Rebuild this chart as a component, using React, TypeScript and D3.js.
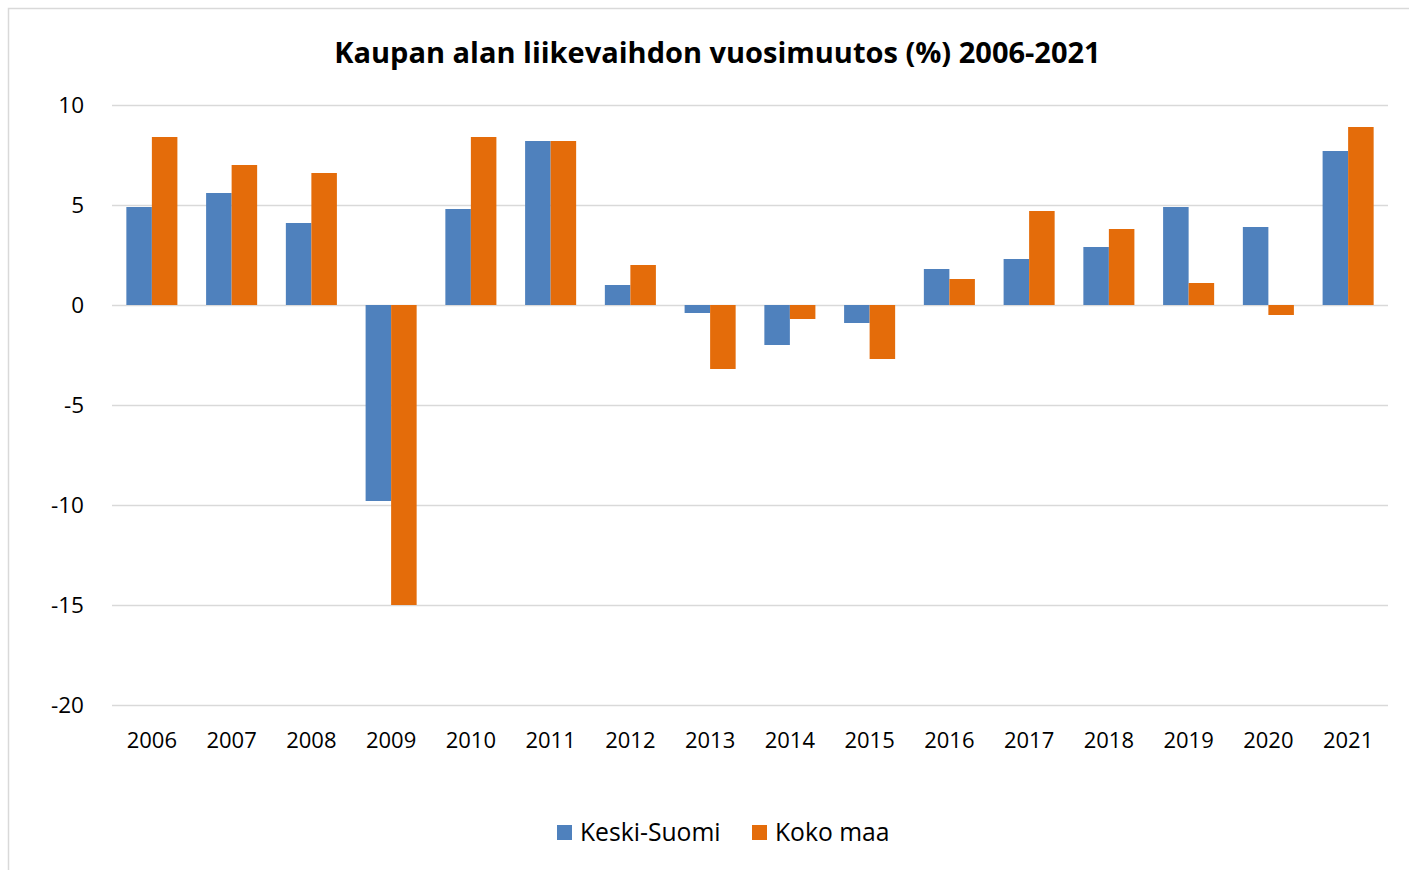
import React from "react";
import * as d3 from "d3";

const years = ["2006","2007","2008","2009","2010","2011","2012","2013","2014","2015","2016","2017","2018","2019","2020","2021"];
const keskiSuomi = [4.9, 5.6, 4.1, -9.8, 4.8, 8.2, 1.0, -0.4, -2.0, -0.9, 1.8, 2.3, 2.9, 4.9, 3.9, 7.7];
const kokoMaa = [8.4, 7.0, 6.6, -15.0, 8.4, 8.2, 2.0, -3.2, -0.7, -2.7, 1.3, 4.7, 3.8, 1.1, -0.5, 8.9];
const seriesNames = ["Keski-Suomi", "Koko maa"];
const seriesColors = ["#4F81BD", "#E46C0A"];
const yTicks = [10, 5, 0, -5, -10, -15, -20];
const title = "Kaupan alan liikevaihdon vuosimuutos (%) 2006-2021";

const W = 1409, H = 870;
const FONT = "'Open Sans', sans-serif";

export default function App() {
  const x0 = d3.scaleBand<string>().domain(years).range([112, 1388]).padding(0);
  const bw = x0.bandwidth();
  const x1 = d3.scaleBand<string>().domain(seriesNames).range([bw * 0.18, bw * 0.82]).padding(0);
  const y = d3.scaleLinear().domain([-20, 10]).range([705, 105]);
  const values = [keskiSuomi, kokoMaa];

  return (
    <svg width={W} height={H} style={{ position: "absolute", left: 0, top: 0, display: "block" }} fontFamily={FONT}>
      <rect x={0} y={0} width={W} height={H} fill="#fff" />
      <rect x={8.5} y={8.5} width={W + 10} height={H + 10} fill="none" stroke="#D9D9D9" strokeWidth={1.5} />
      <text x={717.5} y={63} textAnchor="middle" fontSize={29} fontWeight={700} fill="#000">{title}</text>
      {yTicks.map((t) => (
        <g key={t}>
          <line x1={112} x2={1388} y1={Math.round(y(t)) + 0.5} y2={Math.round(y(t)) + 0.5} stroke="#D9D9D9" strokeWidth={1.5} />
          <text x={84} y={y(t)} dy="0.35em" textAnchor="end" fontSize={22.5} fill="#000">{t}</text>
        </g>
      ))}
      {years.map((yr, i) => (
        <g key={yr} transform={`translate(${x0(yr)},0)`}>
          {seriesNames.map((s, j) => {
            const v = values[j][i];
            const top = y(Math.max(0, v));
            const h = Math.abs(y(v) - y(0));
            return <rect key={s} x={x1(s)} y={top} width={x1.bandwidth()} height={h} fill={seriesColors[j]} />;
          })}
          <text x={bw / 2} y={748} textAnchor="middle" fontSize={22} fill="#000">{yr}</text>
        </g>
      ))}
      {seriesNames.map((s, j) => {
        const lx = [557, 752][j];
        return (
          <g key={s}>
            <rect x={lx} y={825} width={15} height={15} fill={seriesColors[j]} />
            <text x={lx + 23} y={841} fontSize={24.7} fill="#000">{s}</text>
          </g>
        );
      })}
    </svg>
  );
}
